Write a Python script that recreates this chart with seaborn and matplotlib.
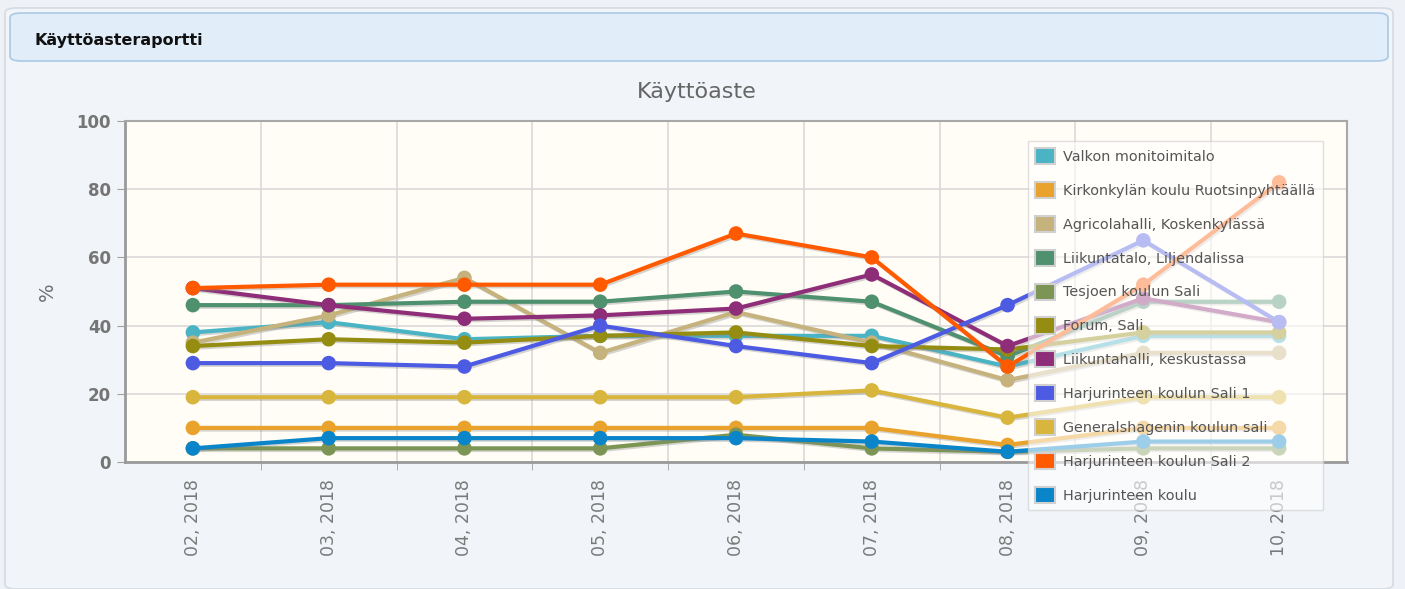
import pandas as pd
import seaborn as sns
import matplotlib.pyplot as plt
import matplotlib.patheffects as pe
from matplotlib.patches import FancyBboxPatch, Rectangle

# Months on the x axis
months = ["02, 2018", "03, 2018", "04, 2018", "05, 2018", "06, 2018",
          "07, 2018", "08, 2018", "09, 2018", "10, 2018"]

# Series names (legend order)
venues = ["Valkon monitoimitalo", "Kirkonkylän koulu Ruotsinpyhtäällä",
          "Agricolahalli, Koskenkylässä", "Liikuntatalo, Liljendalissa",
          "Tesjoen koulun Sali", "Forum, Sali", "Liikuntahalli, keskustassa",
          "Harjurinteen koulun Sali 1", "Generalshagenin koulun sali",
          "Harjurinteen koulun Sali 2", "Harjurinteen koulu"]

# Utilisation rate (%) per venue
valkon = [38, 41, 36, 37, 37, 37, 28, 37, 37]
kirkonkyla = [10, 10, 10, 10, 10, 10, 5, 10, 10]
agricola = [35, 43, 54, 32, 44, 35, 24, 32, 32]
liikuntatalo = [46, 46, 47, 47, 50, 47, 31, 47, 47]
tesjoen = [4, 4, 4, 4, 8, 4, 3, 4, 4]
forum = [34, 36, 35, 37, 38, 34, 33, 38, 38]
liikuntahalli = [51, 46, 42, 43, 45, 55, 34, 48, 41]
harju_sali1 = [29, 29, 28, 40, 34, 29, 46, 65, 41]
generalshagen = [19, 19, 19, 19, 19, 21, 13, 19, 19]
harju_sali2 = [51, 52, 52, 52, 67, 60, 28, 52, 82]
harju_koulu = [4, 7, 7, 7, 7, 6, 3, 6, 6]

colors = ["#4ab3c4", "#e9a22b", "#c6b27d", "#4f906f", "#7c9454", "#958d12",
          "#8e2e78", "#4d5be2", "#d8b53c", "#ff5a00", "#0b85c9"]

values = [valkon, kirkonkyla, agricola, liikuntatalo, tesjoen, forum,
          liikuntahalli, harju_sali1, generalshagen, harju_sali2, harju_koulu]

rows = []
for name, vals in zip(venues, values):
    for i, v in enumerate(vals):
        rows.append({"month": i, "venue": name, "rate": v})
df = pd.DataFrame(rows)

sns.set_style("white")
plt.rcParams['font.family'] = ['DejaVu Sans']

fig = plt.figure(figsize=(14.05, 5.89), dpi=100)
fig.patch.set_facecolor("#eef2f6")

# outer panel and header box (behind the axes)
fig.patches.append(FancyBboxPatch((5 / 1405, 0), 1388 / 1405, 581 / 589,
                                  boxstyle="round,pad=0,rounding_size=0.008",
                                  transform=fig.transFigure, facecolor="#f1f4f8",
                                  edgecolor="#d5dbe2", lw=1.2, zorder=-2))
fig.patches.append(FancyBboxPatch((10 / 1405, 1 - 61 / 589), 1378 / 1405, 48 / 589,
                                  boxstyle="round,pad=0,rounding_size=0.008",
                                  transform=fig.transFigure, facecolor="#e1edf8",
                                  edgecolor="#a9c9e6", lw=1.2, zorder=-1))
fig.text(34 / 1405, 1 - 40 / 589, "Käyttöasteraportti", fontsize=11.5,
         fontweight="bold", color="#111111", va="center", ha="left")

ax = fig.add_axes([125 / 1405, 1 - 462 / 589, 1222 / 1405, 341 / 589])
ax.set_facecolor("#fffdf6")

shadow = [pe.SimpleLineShadow(offset=(1.2, -1.2), shadow_color="#888888", alpha=0.35),
          pe.Normal()]

sns.lineplot(data=df, x="month", y="rate", hue="venue", hue_order=venues,
             palette=colors, marker="o", markersize=10.5, markeredgewidth=0,
             linewidth=3, legend=False, ax=ax, zorder=3)
for line in ax.lines:
    line.set_path_effects(shadow)

ax.set_xlim(-0.5, len(months) - 0.5)
ax.set_ylim(0, 100)
ax.set_xticks(range(len(months)))
ax.set_xticklabels(months, rotation=90, fontsize=12.5, color="#7a7a7a")
ax.set_xticks([i + 0.5 for i in range(len(months) - 1)], minor=True)
ax.set_yticks([0, 20, 40, 60, 80, 100])
ax.set_yticklabels(["0", "20", "40", "60", "80", "100"], fontsize=12,
                   fontweight="bold", color="#757575")
ax.tick_params(axis="x", which="major", length=0, pad=12)
ax.tick_params(axis="x", which="minor", length=6, color="#a0a0a0", bottom=True)
ax.tick_params(axis="y", length=6, color="#a0a0a0", left=True, pad=4)
ax.grid(axis="y", which="major", color="#dadada", lw=1.2)
ax.grid(axis="x", which="minor", color="#dadada", lw=1.2)
ax.set_axisbelow(True)
ax.set_xlabel("")
ax.set_ylabel("%", fontsize=14, color="#707070", labelpad=14)
for s in ["top", "right"]:
    ax.spines[s].set_color("#a8a8a8")
    ax.spines[s].set_linewidth(1.5)
for s in ["left", "bottom"]:
    ax.spines[s].set_color("#9a9a9a")
    ax.spines[s].set_linewidth(2)

fig.text(697 / 1405, 1 - 92 / 589, "Käyttöaste", fontsize=16, color="#666666",
         ha="center", va="center")

handles = [Rectangle((0, 0), 1, 1, facecolor=c, edgecolor="#d0d0d0", lw=1.5) for c in colors]
leg = fig.legend(handles, venues, loc="upper left",
                 bbox_to_anchor=(1028 / 1405, 1 - 141 / 589), fontsize=10.4,
                 labelcolor="#555555", frameon=True, framealpha=0.6,
                 facecolor="white", edgecolor="#cccccc", fancybox=False,
                 handlelength=1.35, handleheight=1.35, handletextpad=0.6,
                 labelspacing=1.22, borderpad=0.5, borderaxespad=0)
leg.get_frame().set_linewidth(1)

fig.savefig("out.png", dpi=100, facecolor=fig.get_facecolor())
